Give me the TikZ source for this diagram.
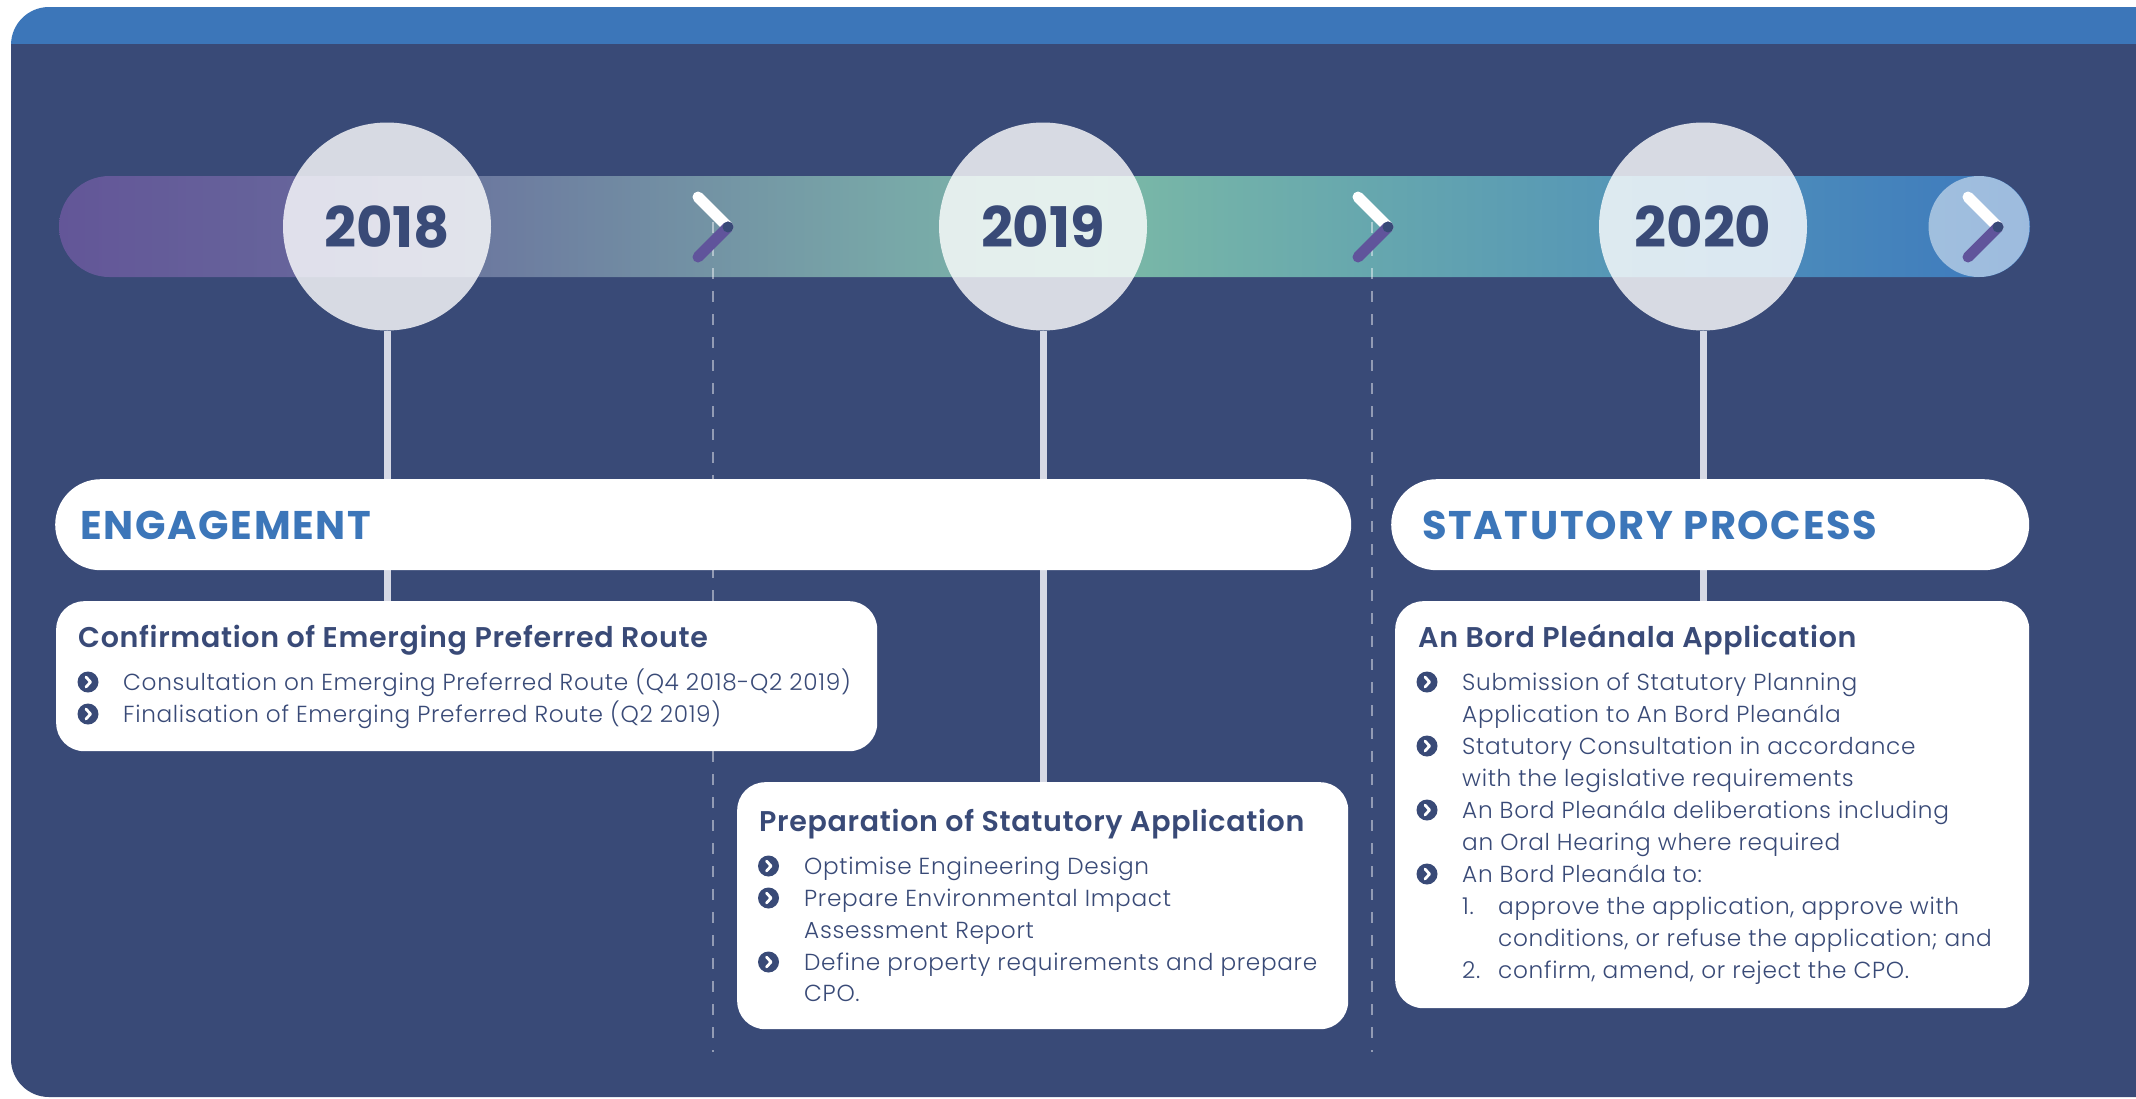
\documentclass[tikz,border=0pt]{standalone}
\usepackage{fontspec}
\setmainfont{Poppins}
\newfontfamily\lightf{Poppins Light}[LetterSpace=2.9]
\newfontfamily\semif{Poppins SemiBold}[LetterSpace=2.4]
\newfontfamily\phasef{Poppins Bold}[LetterSpace=4.2]
\definecolor{navy}{RGB}{57,74,119}
\definecolor{topblue}{RGB}{60,118,185}
\definecolor{chevpurple}{RGB}{96,84,155}
\definecolor{linegray}{RGB}{214,217,229}
\definecolor{sa}{RGB}{99,86,152}
\definecolor{sb}{RGB}{102,100,155}
\definecolor{sc}{RGB}{112,135,162}
\definecolor{sd}{RGB}{120,168,168}
\definecolor{se}{RGB}{123,185,166}
\definecolor{sf}{RGB}{100,165,175}
\definecolor{sg}{RGB}{80,145,185}
\definecolor{sh}{RGB}{60,120,190}
\pgfdeclarehorizontalshading{barshade}{100bp}{color(0bp)=(sa); color(25bp)=(sa); color(31bp)=(sb); color(38.7bp)=(sc); color(46.3bp)=(sd); color(51.4bp)=(se); color(59bp)=(sf); color(66.6bp)=(sg); color(75bp)=(sh); color(100bp)=(sh)}
\tikzset{
  body/.style={anchor=base west, text=navy, font=\lightf\fontsize{23.2}{32}\selectfont, inner sep=0pt},
  ttl/.style={anchor=base west, text=navy, font=\semif\fontsize{28.5}{32}\selectfont, inner sep=0pt},
  phase/.style={anchor=base west, text=topblue, font=\phasef\fontsize{40}{40}\selectfont, inner sep=0pt},
  year/.style={circle, fill=white, fill opacity=0.8, text opacity=1, minimum size=208pt, inner sep=0pt, text=navy, font=\bfseries\fontsize{56}{56}\selectfont},
  wbox/.style={fill=white, rounded corners=28pt, inner sep=0pt, anchor=north west},
  pill/.style={fill=white, rounded corners=45.5pt, inner sep=0pt, anchor=north west},
  bul/.style={circle, fill=navy, minimum size=21pt, inner sep=0pt,
    path picture={\draw[white, line width=2.8pt, line cap=round, line join=round]
      ([xshift=-2pt,yshift=5pt]path picture bounding box.center) -- ++(4.5pt,-5pt) -- ++(-4.5pt,-5pt);}},
  vline/.style={draw=linegray, line width=7pt},
  dline/.style={draw=white, draw opacity=0.45, line width=2pt, dash pattern=on 11pt off 12pt},
  chevw/.style={draw=white, line width=11pt, line cap=round},
  chevp/.style={draw=chevpurple, line width=11pt, line cap=round},
}
\begin{document}
\begin{tikzpicture}[x=1pt,y=-1pt]
\useasboundingbox (0,0) rectangle (2136,1098);
\clip (0,0) rectangle (2136,1098);
\fill[white] (0,0) rectangle (2136,1098);
% panel
\begin{scope}
\clip[rounded corners=38pt] (11,7) rectangle (2300,1097);
\fill[topblue] (0,0) rectangle (2300,44);
\fill[navy] (0,44) rectangle (2300,1100);
\end{scope}
% timeline bar
\path[shading=barshade, rounded corners=50.5pt] (59,176) rectangle (2030,277);
\node[circle, fill=white, fill opacity=0.5, minimum size=101pt, inner sep=0pt] (endc) at (1979,226.5) {};
% dashed separators
\coordinate (d1t) at (713,222); \coordinate (d1b) at (713,1052);
\coordinate (d2t) at (1372,222); \coordinate (d2b) at (1372,1052);
\draw[dline] (d1t) -- (d1b);
\draw[dline] (d2t) -- (d2b);
% chevrons
\foreach \cx/\nm in {728/ch1, 1388/ch2, 1998/ch3}{
  \coordinate (\nm) at (\cx,227);
  \draw[chevw] ([xshift=-30pt,yshift=30pt]\nm) -- (\nm);
  \draw[chevp] (\nm) -- ([xshift=-30pt,yshift=-30pt]\nm);
  \fill[navy] (\nm) circle[radius=5.5pt];
}
% year circles
\node[year] (y18) at (387,226.5) {2018};
\node[year] (y19) at (1043,226.5) {2019};
\node[year] (y20) at (1703,226.5) {2020};
% content boxes
\node[wbox, minimum width=821pt, minimum height=150pt] (conf) at (56,601) {};
\node[wbox, minimum width=611pt, minimum height=247pt] (prep) at (737,782) {};
\node[wbox, minimum width=634pt, minimum height=407pt] (abp) at (1395,601) {};
% connectors
\draw[vline] (y18.south) -- (conf.north -| y18.south);
\draw[vline] (y19.south) -- (prep.north -| y19.south);
\draw[vline] (y20.south) -- (abp.north -| y20.south);
% phase pills
\node[pill, minimum width=1296pt, minimum height=91pt] (eng) at (55,479) {};
\node[pill, minimum width=638pt, minimum height=91pt] (stat) at (1391,479) {};
\node[phase] (engt) at (80,539) {ENGAGEMENT};
\node[phase] (statt) at (1422,539) {STATUTORY PROCESS};
% confirmation box text
\node[ttl] (c0) at (78,647) {Confirmation of Emerging Preferred Route};
\node[bul] (cb1) at (88,682) {};
\node[body] (c1) at (123,690) {Consultation on Emerging Preferred Route (Q4 2018-Q2 2019)};
\node[bul] (cb2) at (88,714) {};
\node[body] (c2) at (123,722) {Finalisation of Emerging Preferred Route (Q2 2019)};
% preparation box text
\node[ttl] (p0) at (759,831) {Preparation of Statutory Application};
\node[bul] (pb1) at (768.5,866) {};
\node[body] (p1) at (804,874) {Optimise Engineering Design};
\node[bul] (pb2) at (768.5,898) {};
\node[body] (p2) at (804,906) {Prepare Environmental Impact};
\node[body] (p3) at (804,938) {Assessment Report};
\node[bul] (pb3) at (768.5,962) {};
\node[body] (p4) at (804,970) {Define property requirements and prepare};
\node[body] (p5) at (804,1001) {CPO.};
% An Bord box text
\node[ttl] (a0) at (1418,647) {An Bord Pleánala Application};
\node[bul] (ab1) at (1427,682) {};
\node[body] (a1) at (1462,690) {Submission of Statutory Planning};
\node[body] (a2) at (1462,722) {Application to An Bord Pleanála};
\node[bul] (ab2) at (1427,746) {};
\node[body] (a3) at (1462,754) {Statutory Consultation in accordance};
\node[body] (a4) at (1462,786) {with the legislative requirements};
\node[bul] (ab3) at (1427,810) {};
\node[body] (a5) at (1462,818) {An Bord Pleanála deliberations including};
\node[body] (a6) at (1462,850) {an Oral Hearing where required};
\node[bul] (ab4) at (1427,874) {};
\node[body] (a7) at (1462,882) {An Bord Pleanála to:};
\node[body] (n1) at (1462,914) {1.};
\node[body] (a8) at (1498,914) {approve the application, approve with};
\node[body] (a9) at (1498,946) {conditions, or refuse the application; and};
\node[body] (n2) at (1462,978) {2.};
\node[body] (a10) at (1498,978) {confirm, amend, or reject the CPO.};
\end{tikzpicture}
\end{document}
